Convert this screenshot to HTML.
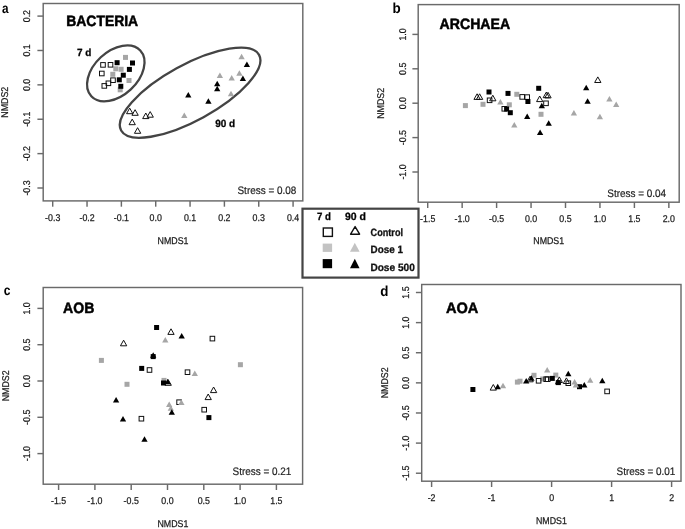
<!DOCTYPE html>
<html><head><meta charset="utf-8"><title>NMDS</title>
<style>
html,body{margin:0;padding:0;background:#fff;}
body{width:685px;height:529px;overflow:hidden;}
svg{display:block;font-family:"Liberation Sans",sans-serif;will-change:transform;text-rendering:geometricPrecision;}
.ax{stroke:#1a1a1a;stroke-width:0.25px;}
.st{stroke:#222;stroke-width:0.2px;}
.tt{stroke:#000;stroke-width:0.5px;}
.lg{stroke:#111;stroke-width:0.3px;}
</style></head>
<body>
<svg width="685" height="529" viewBox="0 0 685 529">
<rect width="685" height="529" fill="#fff"/>
<rect x="43.2" y="3.5" width="259.6" height="197.4" fill="none" stroke="#6a6a6a" stroke-width="1.45"/>
<line x1="52.7" y1="200.9" x2="52.7" y2="206.7" stroke="#6a6a6a" stroke-width="1.45"/>
<text x="0" y="0" transform="translate(52.7 221) scale(0.9 1)" font-size="9.8" font-weight="normal" text-anchor="middle" fill="#1a1a1a" class="ax">-0.3</text>
<line x1="87.04" y1="200.9" x2="87.04" y2="206.7" stroke="#6a6a6a" stroke-width="1.45"/>
<text x="0" y="0" transform="translate(87.04 221) scale(0.9 1)" font-size="9.8" font-weight="normal" text-anchor="middle" fill="#1a1a1a" class="ax">-0.2</text>
<line x1="121.38" y1="200.9" x2="121.38" y2="206.7" stroke="#6a6a6a" stroke-width="1.45"/>
<text x="0" y="0" transform="translate(121.38 221) scale(0.9 1)" font-size="9.8" font-weight="normal" text-anchor="middle" fill="#1a1a1a" class="ax">-0.1</text>
<line x1="155.72" y1="200.9" x2="155.72" y2="206.7" stroke="#6a6a6a" stroke-width="1.45"/>
<text x="0" y="0" transform="translate(155.72 221) scale(0.9 1)" font-size="9.8" font-weight="normal" text-anchor="middle" fill="#1a1a1a" class="ax">0.0</text>
<line x1="190.06" y1="200.9" x2="190.06" y2="206.7" stroke="#6a6a6a" stroke-width="1.45"/>
<text x="0" y="0" transform="translate(190.06 221) scale(0.9 1)" font-size="9.8" font-weight="normal" text-anchor="middle" fill="#1a1a1a" class="ax">0.1</text>
<line x1="224.4" y1="200.9" x2="224.4" y2="206.7" stroke="#6a6a6a" stroke-width="1.45"/>
<text x="0" y="0" transform="translate(224.4 221) scale(0.9 1)" font-size="9.8" font-weight="normal" text-anchor="middle" fill="#1a1a1a" class="ax">0.2</text>
<line x1="258.74" y1="200.9" x2="258.74" y2="206.7" stroke="#6a6a6a" stroke-width="1.45"/>
<text x="0" y="0" transform="translate(258.74 221) scale(0.9 1)" font-size="9.8" font-weight="normal" text-anchor="middle" fill="#1a1a1a" class="ax">0.3</text>
<line x1="293.08" y1="200.9" x2="293.08" y2="206.7" stroke="#6a6a6a" stroke-width="1.45"/>
<text x="0" y="0" transform="translate(293.08 221) scale(0.9 1)" font-size="9.8" font-weight="normal" text-anchor="middle" fill="#1a1a1a" class="ax">0.4</text>
<line x1="37.4" y1="16.1" x2="43.2" y2="16.1" stroke="#6a6a6a" stroke-width="1.45"/>
<text x="0" y="0" transform="translate(30.3 16.1) rotate(-90) scale(0.9 1)" font-size="9.8" font-weight="normal" text-anchor="middle" fill="#1a1a1a" class="ax">0.2</text>
<line x1="37.4" y1="50.48" x2="43.2" y2="50.48" stroke="#6a6a6a" stroke-width="1.45"/>
<text x="0" y="0" transform="translate(30.3 50.48) rotate(-90) scale(0.9 1)" font-size="9.8" font-weight="normal" text-anchor="middle" fill="#1a1a1a" class="ax">0.1</text>
<line x1="37.4" y1="84.86" x2="43.2" y2="84.86" stroke="#6a6a6a" stroke-width="1.45"/>
<text x="0" y="0" transform="translate(30.3 84.86) rotate(-90) scale(0.9 1)" font-size="9.8" font-weight="normal" text-anchor="middle" fill="#1a1a1a" class="ax">0.0</text>
<line x1="37.4" y1="119.24" x2="43.2" y2="119.24" stroke="#6a6a6a" stroke-width="1.45"/>
<text x="0" y="0" transform="translate(30.3 119.24) rotate(-90) scale(0.9 1)" font-size="9.8" font-weight="normal" text-anchor="middle" fill="#1a1a1a" class="ax">-0.1</text>
<line x1="37.4" y1="153.62" x2="43.2" y2="153.62" stroke="#6a6a6a" stroke-width="1.45"/>
<text x="0" y="0" transform="translate(30.3 153.62) rotate(-90) scale(0.9 1)" font-size="9.8" font-weight="normal" text-anchor="middle" fill="#1a1a1a" class="ax">-0.2</text>
<line x1="37.4" y1="188" x2="43.2" y2="188" stroke="#6a6a6a" stroke-width="1.45"/>
<text x="0" y="0" transform="translate(30.3 188) rotate(-90) scale(0.9 1)" font-size="9.8" font-weight="normal" text-anchor="middle" fill="#1a1a1a" class="ax">-0.3</text>
<text x="0" y="0" transform="translate(173 243.6) scale(0.9 1)" font-size="9.8" font-weight="normal" text-anchor="middle" fill="#1a1a1a" class="ax">NMDS1</text>
<text x="0" y="0" transform="translate(8.4 102.2) rotate(-90) scale(0.9 1)" font-size="9.8" font-weight="normal" text-anchor="middle" fill="#1a1a1a" class="ax">NMDS2</text>
<rect x="418.2" y="4.6" width="261" height="197.6" fill="none" stroke="#6a6a6a" stroke-width="1.45"/>
<line x1="427.7" y1="202.2" x2="427.7" y2="208" stroke="#6a6a6a" stroke-width="1.45"/>
<text x="0" y="0" transform="translate(427.7 222) scale(0.9 1)" font-size="9.8" font-weight="normal" text-anchor="middle" fill="#1a1a1a" class="ax">-1.5</text>
<line x1="462.15" y1="202.2" x2="462.15" y2="208" stroke="#6a6a6a" stroke-width="1.45"/>
<text x="0" y="0" transform="translate(462.15 222) scale(0.9 1)" font-size="9.8" font-weight="normal" text-anchor="middle" fill="#1a1a1a" class="ax">-1.0</text>
<line x1="496.6" y1="202.2" x2="496.6" y2="208" stroke="#6a6a6a" stroke-width="1.45"/>
<text x="0" y="0" transform="translate(496.6 222) scale(0.9 1)" font-size="9.8" font-weight="normal" text-anchor="middle" fill="#1a1a1a" class="ax">-0.5</text>
<line x1="531.05" y1="202.2" x2="531.05" y2="208" stroke="#6a6a6a" stroke-width="1.45"/>
<text x="0" y="0" transform="translate(531.05 222) scale(0.9 1)" font-size="9.8" font-weight="normal" text-anchor="middle" fill="#1a1a1a" class="ax">0.0</text>
<line x1="565.5" y1="202.2" x2="565.5" y2="208" stroke="#6a6a6a" stroke-width="1.45"/>
<text x="0" y="0" transform="translate(565.5 222) scale(0.9 1)" font-size="9.8" font-weight="normal" text-anchor="middle" fill="#1a1a1a" class="ax">0.5</text>
<line x1="599.95" y1="202.2" x2="599.95" y2="208" stroke="#6a6a6a" stroke-width="1.45"/>
<text x="0" y="0" transform="translate(599.95 222) scale(0.9 1)" font-size="9.8" font-weight="normal" text-anchor="middle" fill="#1a1a1a" class="ax">1.0</text>
<line x1="634.4" y1="202.2" x2="634.4" y2="208" stroke="#6a6a6a" stroke-width="1.45"/>
<text x="0" y="0" transform="translate(634.4 222) scale(0.9 1)" font-size="9.8" font-weight="normal" text-anchor="middle" fill="#1a1a1a" class="ax">1.5</text>
<line x1="668.85" y1="202.2" x2="668.85" y2="208" stroke="#6a6a6a" stroke-width="1.45"/>
<text x="0" y="0" transform="translate(668.85 222) scale(0.9 1)" font-size="9.8" font-weight="normal" text-anchor="middle" fill="#1a1a1a" class="ax">2.0</text>
<line x1="412.4" y1="34.4" x2="418.2" y2="34.4" stroke="#6a6a6a" stroke-width="1.45"/>
<text x="0" y="0" transform="translate(405.5 34.4) rotate(-90) scale(0.9 1)" font-size="9.8" font-weight="normal" text-anchor="middle" fill="#1a1a1a" class="ax">1.0</text>
<line x1="412.4" y1="68.8" x2="418.2" y2="68.8" stroke="#6a6a6a" stroke-width="1.45"/>
<text x="0" y="0" transform="translate(405.5 68.8) rotate(-90) scale(0.9 1)" font-size="9.8" font-weight="normal" text-anchor="middle" fill="#1a1a1a" class="ax">0.5</text>
<line x1="412.4" y1="103.2" x2="418.2" y2="103.2" stroke="#6a6a6a" stroke-width="1.45"/>
<text x="0" y="0" transform="translate(405.5 103.2) rotate(-90) scale(0.9 1)" font-size="9.8" font-weight="normal" text-anchor="middle" fill="#1a1a1a" class="ax">0.0</text>
<line x1="412.4" y1="137.6" x2="418.2" y2="137.6" stroke="#6a6a6a" stroke-width="1.45"/>
<text x="0" y="0" transform="translate(405.5 137.6) rotate(-90) scale(0.9 1)" font-size="9.8" font-weight="normal" text-anchor="middle" fill="#1a1a1a" class="ax">-0.5</text>
<line x1="412.4" y1="172" x2="418.2" y2="172" stroke="#6a6a6a" stroke-width="1.45"/>
<text x="0" y="0" transform="translate(405.5 172) rotate(-90) scale(0.9 1)" font-size="9.8" font-weight="normal" text-anchor="middle" fill="#1a1a1a" class="ax">-1.0</text>
<text x="0" y="0" transform="translate(548.7 244.4) scale(0.9 1)" font-size="9.8" font-weight="normal" text-anchor="middle" fill="#1a1a1a" class="ax">NMDS1</text>
<text x="0" y="0" transform="translate(384.4 103.4) rotate(-90) scale(0.9 1)" font-size="9.8" font-weight="normal" text-anchor="middle" fill="#1a1a1a" class="ax">NMDS2</text>
<rect x="43.2" y="287.5" width="259.4" height="196.7" fill="none" stroke="#6a6a6a" stroke-width="1.45"/>
<line x1="58.6" y1="484.2" x2="58.6" y2="490" stroke="#6a6a6a" stroke-width="1.45"/>
<text x="0" y="0" transform="translate(58.6 504) scale(0.9 1)" font-size="9.8" font-weight="normal" text-anchor="middle" fill="#1a1a1a" class="ax">-1.5</text>
<line x1="94.9" y1="484.2" x2="94.9" y2="490" stroke="#6a6a6a" stroke-width="1.45"/>
<text x="0" y="0" transform="translate(94.9 504) scale(0.9 1)" font-size="9.8" font-weight="normal" text-anchor="middle" fill="#1a1a1a" class="ax">-1.0</text>
<line x1="131.2" y1="484.2" x2="131.2" y2="490" stroke="#6a6a6a" stroke-width="1.45"/>
<text x="0" y="0" transform="translate(131.2 504) scale(0.9 1)" font-size="9.8" font-weight="normal" text-anchor="middle" fill="#1a1a1a" class="ax">-0.5</text>
<line x1="167.5" y1="484.2" x2="167.5" y2="490" stroke="#6a6a6a" stroke-width="1.45"/>
<text x="0" y="0" transform="translate(167.5 504) scale(0.9 1)" font-size="9.8" font-weight="normal" text-anchor="middle" fill="#1a1a1a" class="ax">0.0</text>
<line x1="203.8" y1="484.2" x2="203.8" y2="490" stroke="#6a6a6a" stroke-width="1.45"/>
<text x="0" y="0" transform="translate(203.8 504) scale(0.9 1)" font-size="9.8" font-weight="normal" text-anchor="middle" fill="#1a1a1a" class="ax">0.5</text>
<line x1="240.1" y1="484.2" x2="240.1" y2="490" stroke="#6a6a6a" stroke-width="1.45"/>
<text x="0" y="0" transform="translate(240.1 504) scale(0.9 1)" font-size="9.8" font-weight="normal" text-anchor="middle" fill="#1a1a1a" class="ax">1.0</text>
<line x1="276.4" y1="484.2" x2="276.4" y2="490" stroke="#6a6a6a" stroke-width="1.45"/>
<text x="0" y="0" transform="translate(276.4 504) scale(0.9 1)" font-size="9.8" font-weight="normal" text-anchor="middle" fill="#1a1a1a" class="ax">1.5</text>
<line x1="37.4" y1="308.4" x2="43.2" y2="308.4" stroke="#6a6a6a" stroke-width="1.45"/>
<text x="0" y="0" transform="translate(30.3 308.4) rotate(-90) scale(0.9 1)" font-size="9.8" font-weight="normal" text-anchor="middle" fill="#1a1a1a" class="ax">1.0</text>
<line x1="37.4" y1="344.7" x2="43.2" y2="344.7" stroke="#6a6a6a" stroke-width="1.45"/>
<text x="0" y="0" transform="translate(30.3 344.7) rotate(-90) scale(0.9 1)" font-size="9.8" font-weight="normal" text-anchor="middle" fill="#1a1a1a" class="ax">0.5</text>
<line x1="37.4" y1="381" x2="43.2" y2="381" stroke="#6a6a6a" stroke-width="1.45"/>
<text x="0" y="0" transform="translate(30.3 381) rotate(-90) scale(0.9 1)" font-size="9.8" font-weight="normal" text-anchor="middle" fill="#1a1a1a" class="ax">0.0</text>
<line x1="37.4" y1="417.3" x2="43.2" y2="417.3" stroke="#6a6a6a" stroke-width="1.45"/>
<text x="0" y="0" transform="translate(30.3 417.3) rotate(-90) scale(0.9 1)" font-size="9.8" font-weight="normal" text-anchor="middle" fill="#1a1a1a" class="ax">-0.5</text>
<line x1="37.4" y1="453.6" x2="43.2" y2="453.6" stroke="#6a6a6a" stroke-width="1.45"/>
<text x="0" y="0" transform="translate(30.3 453.6) rotate(-90) scale(0.9 1)" font-size="9.8" font-weight="normal" text-anchor="middle" fill="#1a1a1a" class="ax">-1.0</text>
<text x="0" y="0" transform="translate(172.9 526.6) scale(0.9 1)" font-size="9.8" font-weight="normal" text-anchor="middle" fill="#1a1a1a" class="ax">NMDS1</text>
<text x="0" y="0" transform="translate(8.8 385.85) rotate(-90) scale(0.9 1)" font-size="9.8" font-weight="normal" text-anchor="middle" fill="#1a1a1a" class="ax">NMDS2</text>
<rect x="421.7" y="284.5" width="259.3" height="196.7" fill="none" stroke="#6a6a6a" stroke-width="1.45"/>
<line x1="431.6" y1="481.2" x2="431.6" y2="487" stroke="#6a6a6a" stroke-width="1.45"/>
<text x="0" y="0" transform="translate(431.6 501.4) scale(0.9 1)" font-size="9.8" font-weight="normal" text-anchor="middle" fill="#1a1a1a" class="ax">-2</text>
<line x1="491.6" y1="481.2" x2="491.6" y2="487" stroke="#6a6a6a" stroke-width="1.45"/>
<text x="0" y="0" transform="translate(491.6 501.4) scale(0.9 1)" font-size="9.8" font-weight="normal" text-anchor="middle" fill="#1a1a1a" class="ax">-1</text>
<line x1="551.6" y1="481.2" x2="551.6" y2="487" stroke="#6a6a6a" stroke-width="1.45"/>
<text x="0" y="0" transform="translate(551.6 501.4) scale(0.9 1)" font-size="9.8" font-weight="normal" text-anchor="middle" fill="#1a1a1a" class="ax">0</text>
<line x1="611.6" y1="481.2" x2="611.6" y2="487" stroke="#6a6a6a" stroke-width="1.45"/>
<text x="0" y="0" transform="translate(611.6 501.4) scale(0.9 1)" font-size="9.8" font-weight="normal" text-anchor="middle" fill="#1a1a1a" class="ax">1</text>
<line x1="671.6" y1="481.2" x2="671.6" y2="487" stroke="#6a6a6a" stroke-width="1.45"/>
<text x="0" y="0" transform="translate(671.6 501.4) scale(0.9 1)" font-size="9.8" font-weight="normal" text-anchor="middle" fill="#1a1a1a" class="ax">2</text>
<line x1="415.9" y1="292.5" x2="421.7" y2="292.5" stroke="#6a6a6a" stroke-width="1.45"/>
<text x="0" y="0" transform="translate(409.2 292.5) rotate(-90) scale(0.9 1)" font-size="9.8" font-weight="normal" text-anchor="middle" fill="#1a1a1a" class="ax">1.5</text>
<line x1="415.9" y1="322.62" x2="421.7" y2="322.62" stroke="#6a6a6a" stroke-width="1.45"/>
<text x="0" y="0" transform="translate(409.2 322.62) rotate(-90) scale(0.9 1)" font-size="9.8" font-weight="normal" text-anchor="middle" fill="#1a1a1a" class="ax">1.0</text>
<line x1="415.9" y1="352.74" x2="421.7" y2="352.74" stroke="#6a6a6a" stroke-width="1.45"/>
<text x="0" y="0" transform="translate(409.2 352.74) rotate(-90) scale(0.9 1)" font-size="9.8" font-weight="normal" text-anchor="middle" fill="#1a1a1a" class="ax">0.5</text>
<line x1="415.9" y1="382.86" x2="421.7" y2="382.86" stroke="#6a6a6a" stroke-width="1.45"/>
<text x="0" y="0" transform="translate(409.2 382.86) rotate(-90) scale(0.9 1)" font-size="9.8" font-weight="normal" text-anchor="middle" fill="#1a1a1a" class="ax">0.0</text>
<line x1="415.9" y1="412.98" x2="421.7" y2="412.98" stroke="#6a6a6a" stroke-width="1.45"/>
<text x="0" y="0" transform="translate(409.2 412.98) rotate(-90) scale(0.9 1)" font-size="9.8" font-weight="normal" text-anchor="middle" fill="#1a1a1a" class="ax">-0.5</text>
<line x1="415.9" y1="443.1" x2="421.7" y2="443.1" stroke="#6a6a6a" stroke-width="1.45"/>
<text x="0" y="0" transform="translate(409.2 443.1) rotate(-90) scale(0.9 1)" font-size="9.8" font-weight="normal" text-anchor="middle" fill="#1a1a1a" class="ax">-1.0</text>
<line x1="415.9" y1="473.22" x2="421.7" y2="473.22" stroke="#6a6a6a" stroke-width="1.45"/>
<text x="0" y="0" transform="translate(409.2 473.22) rotate(-90) scale(0.9 1)" font-size="9.8" font-weight="normal" text-anchor="middle" fill="#1a1a1a" class="ax">-1.5</text>
<text x="0" y="0" transform="translate(551.35 524.4) scale(0.9 1)" font-size="9.8" font-weight="normal" text-anchor="middle" fill="#1a1a1a" class="ax">NMDS1</text>
<text x="0" y="0" transform="translate(388 382.85) rotate(-90) scale(0.9 1)" font-size="9.8" font-weight="normal" text-anchor="middle" fill="#1a1a1a" class="ax">NMDS2</text>
<text x="0" y="0" transform="translate(1.9 13) scale(0.84 1)" font-size="14" font-weight="bold" text-anchor="start" fill="#000" >a</text>
<text x="0" y="0" transform="translate(392.5 12.6) scale(0.93 1)" font-size="14.4" font-weight="bold" text-anchor="start" fill="#000" >b</text>
<text x="0" y="0" transform="translate(3.7 294.7) scale(0.86 1)" font-size="14" font-weight="bold" text-anchor="start" fill="#000" >c</text>
<text x="0" y="0" transform="translate(380.2 296.1) scale(0.93 1)" font-size="14.4" font-weight="bold" text-anchor="start" fill="#000" >d</text>
<text x="66.2" y="26.4" font-size="15" font-weight="bold" text-anchor="start" fill="#000" textLength="72" lengthAdjust="spacingAndGlyphs" class="tt">BACTERIA</text>
<text x="439.6" y="28.6" font-size="15" font-weight="bold" text-anchor="start" fill="#000" textLength="70.5" lengthAdjust="spacingAndGlyphs" class="tt">ARCHAEA</text>
<text x="63.1" y="312.5" font-size="15" font-weight="bold" text-anchor="start" fill="#000" textLength="31.3" lengthAdjust="spacingAndGlyphs" class="tt">AOB</text>
<text x="446" y="313.4" font-size="15" font-weight="bold" text-anchor="start" fill="#000" textLength="32.4" lengthAdjust="spacingAndGlyphs" class="tt">AOA</text>
<text x="237.5" y="193.8" font-size="10.8" font-weight="normal" text-anchor="start" fill="#222" textLength="58.8" lengthAdjust="spacingAndGlyphs" class="st">Stress = 0.08</text>
<text x="607.3" y="197.1" font-size="10.8" font-weight="normal" text-anchor="start" fill="#222" textLength="58.8" lengthAdjust="spacingAndGlyphs" class="st">Stress = 0.04</text>
<text x="232.6" y="475.1" font-size="10.8" font-weight="normal" text-anchor="start" fill="#222" textLength="58.8" lengthAdjust="spacingAndGlyphs" class="st">Stress = 0.21</text>
<text x="616.6" y="475.3" font-size="10.8" font-weight="normal" text-anchor="start" fill="#222" textLength="58.8" lengthAdjust="spacingAndGlyphs" class="st">Stress = 0.01</text>
<ellipse cx="115.8" cy="73.3" rx="33.5" ry="22.0" transform="rotate(-43.07 115.8 73.3)" fill="none" stroke="#444444" stroke-width="2.3"/>
<ellipse cx="190.1" cy="92.7" rx="78.65" ry="27.9" transform="rotate(-28.75 190.1 92.7)" fill="none" stroke="#444444" stroke-width="2.3"/>
<text x="77" y="56" font-size="10.4" font-weight="bold" text-anchor="start" fill="#000" textLength="14.4" lengthAdjust="spacingAndGlyphs" class="lg">7 d</text>
<text x="215.2" y="126.5" font-size="10.4" font-weight="bold" text-anchor="start" fill="#000" textLength="20" lengthAdjust="spacingAndGlyphs" class="lg">90 d</text>
<rect x="123" y="54.9" width="5" height="5" fill="#a6a6a6"/>
<rect x="113.3" y="66.3" width="5" height="5" fill="#a6a6a6"/>
<rect x="118.6" y="66.8" width="5" height="5" fill="#a6a6a6"/>
<rect x="110.3" y="71.8" width="5" height="5" fill="#a6a6a6"/>
<rect x="126.5" y="78" width="5" height="5" fill="#a6a6a6"/>
<rect x="117.7" y="87.3" width="5" height="5" fill="#a6a6a6"/>
<rect x="100.7" y="62.6" width="4.6" height="4.6" fill="none" stroke="#111" stroke-width="1.0"/>
<rect x="108.2" y="62.5" width="4.6" height="4.6" fill="none" stroke="#111" stroke-width="1.0"/>
<rect x="99.5" y="71.2" width="4.6" height="4.6" fill="none" stroke="#111" stroke-width="1.0"/>
<rect x="110.7" y="77.9" width="4.6" height="4.6" fill="none" stroke="#111" stroke-width="1.0"/>
<rect x="106.1" y="81" width="4.6" height="4.6" fill="none" stroke="#111" stroke-width="1.0"/>
<rect x="102" y="83.6" width="4.6" height="4.6" fill="none" stroke="#111" stroke-width="1.0"/>
<rect x="114.6" y="60.2" width="5" height="5" fill="#000"/>
<rect x="130" y="60.5" width="5" height="5" fill="#000"/>
<rect x="126.9" y="66.9" width="5" height="5" fill="#000"/>
<rect x="120.8" y="72.7" width="5" height="5" fill="#000"/>
<rect x="116.8" y="77.3" width="5" height="5" fill="#000"/>
<rect x="118.3" y="83.8" width="5" height="5" fill="#000"/>
<path d="M184.3 112.45L187.45 117.95L181.15 117.95Z" fill="#a6a6a6"/>
<path d="M241.6 53.75L244.75 59.25L238.45 59.25Z" fill="#a6a6a6"/>
<path d="M219.9 72.55L223.05 78.05L216.75 78.05Z" fill="#a6a6a6"/>
<path d="M231.7 75.05L234.85 80.55L228.55 80.55Z" fill="#a6a6a6"/>
<path d="M239.4 70.15L242.55 75.65L236.25 75.65Z" fill="#a6a6a6"/>
<path d="M231 90.65L234.15 96.15L227.85 96.15Z" fill="#a6a6a6"/>
<path d="M129.7 108.1L132.85 113.7L126.55 113.7Z" fill="none" stroke="#111" stroke-width="1.0" stroke-linejoin="round"/>
<path d="M135.1 109.7L138.25 115.3L131.95 115.3Z" fill="none" stroke="#111" stroke-width="1.0" stroke-linejoin="round"/>
<path d="M145.8 113L148.95 118.6L142.65 118.6Z" fill="none" stroke="#111" stroke-width="1.0" stroke-linejoin="round"/>
<path d="M150.2 111.6L153.35 117.2L147.05 117.2Z" fill="none" stroke="#111" stroke-width="1.0" stroke-linejoin="round"/>
<path d="M132.2 119.1L135.35 124.7L129.05 124.7Z" fill="none" stroke="#111" stroke-width="1.0" stroke-linejoin="round"/>
<path d="M137.6 127.7L140.75 133.3L134.45 133.3Z" fill="none" stroke="#111" stroke-width="1.0" stroke-linejoin="round"/>
<path d="M246.9 61.55L250.05 67.05L243.75 67.05Z" fill="#000"/>
<path d="M242.9 75.55L246.05 81.05L239.75 81.05Z" fill="#000"/>
<path d="M217.2 80.75L220.35 86.25L214.05 86.25Z" fill="#000"/>
<path d="M217.2 85.65L220.35 91.15L214.05 91.15Z" fill="#000"/>
<path d="M208.4 98.25L211.55 103.75L205.25 103.75Z" fill="#000"/>
<path d="M188.3 92.05L191.45 97.55L185.15 97.55Z" fill="#000"/>
<rect x="462.9" y="103.1" width="5" height="5" fill="#a6a6a6"/>
<rect x="480.5" y="101.8" width="5" height="5" fill="#a6a6a6"/>
<rect x="514.3" y="91.8" width="5" height="5" fill="#a6a6a6"/>
<rect x="506.8" y="102.3" width="5" height="5" fill="#a6a6a6"/>
<rect x="538.5" y="111.8" width="5" height="5" fill="#a6a6a6"/>
<rect x="487.3" y="98" width="4.6" height="4.6" fill="none" stroke="#111" stroke-width="1.0"/>
<rect x="519.9" y="94.6" width="4.6" height="4.6" fill="none" stroke="#111" stroke-width="1.0"/>
<rect x="524.9" y="94.8" width="4.6" height="4.6" fill="none" stroke="#111" stroke-width="1.0"/>
<rect x="502" y="106.5" width="4.6" height="4.6" fill="none" stroke="#111" stroke-width="1.0"/>
<rect x="543.7" y="101" width="4.6" height="4.6" fill="none" stroke="#111" stroke-width="1.0"/>
<rect x="486.5" y="89.5" width="5" height="5" fill="#000"/>
<rect x="505.5" y="90.9" width="5" height="5" fill="#000"/>
<rect x="504.1" y="106.5" width="5" height="5" fill="#000"/>
<rect x="507.8" y="110.2" width="5" height="5" fill="#000"/>
<rect x="525.4" y="99" width="5" height="5" fill="#000"/>
<rect x="536.2" y="85.8" width="5" height="5" fill="#000"/>
<path d="M500.4 98.95L503.55 104.45L497.25 104.45Z" fill="#a6a6a6"/>
<path d="M514.3 121.95L517.45 127.45L511.15 127.45Z" fill="#a6a6a6"/>
<path d="M573.9 109.95L577.05 115.45L570.75 115.45Z" fill="#a6a6a6"/>
<path d="M599.9 113.85L603.05 119.35L596.75 119.35Z" fill="#a6a6a6"/>
<path d="M609.4 96.05L612.55 101.55L606.25 101.55Z" fill="#a6a6a6"/>
<path d="M616.2 101.55L619.35 107.05L613.05 107.05Z" fill="#a6a6a6"/>
<path d="M477.1 93.8L480.25 99.4L473.95 99.4Z" fill="none" stroke="#111" stroke-width="1.0" stroke-linejoin="round"/>
<path d="M479.6 93.8L482.75 99.4L476.45 99.4Z" fill="none" stroke="#111" stroke-width="1.0" stroke-linejoin="round"/>
<path d="M492.8 95.2L495.95 100.8L489.65 100.8Z" fill="none" stroke="#111" stroke-width="1.0" stroke-linejoin="round"/>
<path d="M539.7 96L542.85 101.6L536.55 101.6Z" fill="none" stroke="#111" stroke-width="1.0" stroke-linejoin="round"/>
<path d="M546.3 92.1L549.45 97.7L543.15 97.7Z" fill="none" stroke="#111" stroke-width="1.0" stroke-linejoin="round"/>
<path d="M548 92.3L551.15 97.9L544.85 97.9Z" fill="none" stroke="#111" stroke-width="1.0" stroke-linejoin="round"/>
<path d="M597.8 76.9L600.95 82.5L594.65 82.5Z" fill="none" stroke="#111" stroke-width="1.0" stroke-linejoin="round"/>
<path d="M541.8 102.75L544.95 108.25L538.65 108.25Z" fill="#000"/>
<path d="M527.2 113.55L530.35 119.05L524.05 119.05Z" fill="#000"/>
<path d="M548.7 120.15L551.85 125.65L545.55 125.65Z" fill="#000"/>
<path d="M540.1 129.45L543.25 134.95L536.95 134.95Z" fill="#000"/>
<path d="M586.2 84.75L589.35 90.25L583.05 90.25Z" fill="#000"/>
<path d="M587.6 98.25L590.75 103.75L584.45 103.75Z" fill="#000"/>
<rect x="98.9" y="357.9" width="5" height="5" fill="#a6a6a6"/>
<rect x="124.5" y="381.8" width="5" height="5" fill="#a6a6a6"/>
<rect x="237.9" y="362.2" width="5" height="5" fill="#a6a6a6"/>
<rect x="161.5" y="377.9" width="5" height="5" fill="#a6a6a6"/>
<rect x="210.1" y="336.3" width="4.6" height="4.6" fill="none" stroke="#111" stroke-width="1.0"/>
<rect x="147.2" y="367.7" width="4.6" height="4.6" fill="none" stroke="#111" stroke-width="1.0"/>
<rect x="185.2" y="369.9" width="4.6" height="4.6" fill="none" stroke="#111" stroke-width="1.0"/>
<rect x="176.8" y="399.9" width="4.6" height="4.6" fill="none" stroke="#111" stroke-width="1.0"/>
<rect x="201.9" y="407.4" width="4.6" height="4.6" fill="none" stroke="#111" stroke-width="1.0"/>
<rect x="139.1" y="416.4" width="4.6" height="4.6" fill="none" stroke="#111" stroke-width="1.0"/>
<rect x="154.1" y="325" width="5" height="5" fill="#000"/>
<rect x="150.7" y="354.1" width="5" height="5" fill="#000"/>
<rect x="139.2" y="365.9" width="5" height="5" fill="#000"/>
<rect x="161" y="380.5" width="5" height="5" fill="#000"/>
<rect x="206.4" y="415.1" width="5" height="5" fill="#000"/>
<path d="M165.3 337.05L168.45 342.55L162.15 342.55Z" fill="#a6a6a6"/>
<path d="M194.8 370.45L197.95 375.95L191.65 375.95Z" fill="#a6a6a6"/>
<path d="M181.4 399.45L184.55 404.95L178.25 404.95Z" fill="#a6a6a6"/>
<path d="M169.2 401.55L172.35 407.05L166.05 407.05Z" fill="#a6a6a6"/>
<path d="M170.8 405.25L173.95 410.75L167.65 410.75Z" fill="#a6a6a6"/>
<path d="M171 328.8L174.15 334.4L167.85 334.4Z" fill="none" stroke="#111" stroke-width="1.0" stroke-linejoin="round"/>
<path d="M123.6 340.2L126.75 345.8L120.45 345.8Z" fill="none" stroke="#111" stroke-width="1.0" stroke-linejoin="round"/>
<path d="M168.2 379.7L171.35 385.3L165.05 385.3Z" fill="none" stroke="#111" stroke-width="1.0" stroke-linejoin="round"/>
<path d="M213.6 387L216.75 392.6L210.45 392.6Z" fill="none" stroke="#111" stroke-width="1.0" stroke-linejoin="round"/>
<path d="M208.2 394L211.35 399.6L205.05 399.6Z" fill="none" stroke="#111" stroke-width="1.0" stroke-linejoin="round"/>
<path d="M181.7 332.95L184.85 338.45L178.55 338.45Z" fill="#000"/>
<path d="M153.2 352.25L156.35 357.75L150.05 357.75Z" fill="#000"/>
<path d="M167.7 378.65L170.85 384.15L164.55 384.15Z" fill="#000"/>
<path d="M116.1 396.95L119.25 402.45L112.95 402.45Z" fill="#000"/>
<path d="M171.8 409.35L174.95 414.85L168.65 414.85Z" fill="#000"/>
<path d="M123 415.95L126.15 421.45L119.85 421.45Z" fill="#000"/>
<path d="M144.5 436.25L147.65 441.75L141.35 441.75Z" fill="#000"/>
<rect x="514.9" y="379.6" width="5" height="5" fill="#a6a6a6"/>
<rect x="517.5" y="378.7" width="5" height="5" fill="#a6a6a6"/>
<rect x="531.5" y="372.8" width="5" height="5" fill="#a6a6a6"/>
<rect x="553.3" y="372.6" width="5" height="5" fill="#a6a6a6"/>
<rect x="540.2" y="376.5" width="5" height="5" fill="#a6a6a6"/>
<rect x="536.3" y="378.5" width="4.6" height="4.6" fill="none" stroke="#111" stroke-width="1.0"/>
<rect x="543.9" y="376.9" width="4.6" height="4.6" fill="none" stroke="#111" stroke-width="1.0"/>
<rect x="545.4" y="376.9" width="4.6" height="4.6" fill="none" stroke="#111" stroke-width="1.0"/>
<rect x="566" y="380.9" width="4.6" height="4.6" fill="none" stroke="#111" stroke-width="1.0"/>
<rect x="604.8" y="389.1" width="4.6" height="4.6" fill="none" stroke="#111" stroke-width="1.0"/>
<rect x="470.4" y="387" width="5" height="5" fill="#000"/>
<rect x="549.8" y="375.9" width="5" height="5" fill="#000"/>
<rect x="555.8" y="380.1" width="5" height="5" fill="#000"/>
<rect x="577" y="384.2" width="5" height="5" fill="#000"/>
<path d="M503 382.85L506.15 388.35L499.85 388.35Z" fill="#a6a6a6"/>
<path d="M547.2 367.05L550.35 372.55L544.05 372.55Z" fill="#a6a6a6"/>
<path d="M574.6 378.95L577.75 384.45L571.45 384.45Z" fill="#a6a6a6"/>
<path d="M575.9 381.95L579.05 387.45L572.75 387.45Z" fill="#a6a6a6"/>
<path d="M590.2 377.35L593.35 382.85L587.05 382.85Z" fill="#a6a6a6"/>
<path d="M493.3 384.5L496.45 390.1L490.15 390.1Z" fill="none" stroke="#111" stroke-width="1.0" stroke-linejoin="round"/>
<path d="M530.1 376.2L533.25 381.8L526.95 381.8Z" fill="none" stroke="#111" stroke-width="1.0" stroke-linejoin="round"/>
<path d="M559.3 376.9L562.45 382.5L556.15 382.5Z" fill="none" stroke="#111" stroke-width="1.0" stroke-linejoin="round"/>
<path d="M566.4 377.9L569.55 383.5L563.25 383.5Z" fill="none" stroke="#111" stroke-width="1.0" stroke-linejoin="round"/>
<path d="M497.7 383.75L500.85 389.25L494.55 389.25Z" fill="#000"/>
<path d="M526.2 378.05L529.35 383.55L523.05 383.55Z" fill="#000"/>
<path d="M531.4 375.35L534.55 380.85L528.25 380.85Z" fill="#000"/>
<path d="M568.3 370.85L571.45 376.35L565.15 376.35Z" fill="#000"/>
<path d="M584.3 381.95L587.45 387.45L581.15 387.45Z" fill="#000"/>
<path d="M602.3 377.85L605.45 383.35L599.15 383.35Z" fill="#000"/>
<path d="M558 378.75L561.15 384.25L554.85 384.25Z" fill="#000"/>
<rect x="302.5" y="208.7" width="116" height="68.9" fill="#fff" stroke="#444" stroke-width="2.2"/>
<text x="317" y="219.8" font-size="10.6" font-weight="bold" text-anchor="start" fill="#000" textLength="14" lengthAdjust="spacingAndGlyphs" class="lg">7 d</text>
<text x="345" y="219.8" font-size="10.6" font-weight="bold" text-anchor="start" fill="#000" textLength="21" lengthAdjust="spacingAndGlyphs" class="lg">90 d</text>
<rect x="323.3" y="228" width="9.1" height="8.4" fill="none" stroke="#111" stroke-width="1.4"/>
<path d="M355.1 226.6L359.6 234.2L350.6 234.2Z" fill="none" stroke="#111" stroke-width="1.4" stroke-linejoin="round"/>
<rect x="322.7" y="243.6" width="9.4" height="8.3" fill="#c3c3c3"/>
<path d="M354.8 242.8L359.6 251.8L350 251.8Z" fill="#c3c3c3"/>
<rect x="322.7" y="259.1" width="9.4" height="9.1" fill="#000"/>
<path d="M354.8 258.8L359.6 268.2L350 268.2Z" fill="#000"/>
<text x="370.6" y="236.3" font-size="10.6" font-weight="bold" text-anchor="start" fill="#111" textLength="32.4" lengthAdjust="spacingAndGlyphs" class="lg">Control</text>
<text x="370.6" y="253" font-size="10.6" font-weight="bold" text-anchor="start" fill="#111" textLength="32.4" lengthAdjust="spacingAndGlyphs" class="lg">Dose 1</text>
<text x="370.4" y="270.6" font-size="10.6" font-weight="bold" text-anchor="start" fill="#111" textLength="44.4" lengthAdjust="spacingAndGlyphs" class="lg">Dose 500</text>
</svg>
</body></html>
